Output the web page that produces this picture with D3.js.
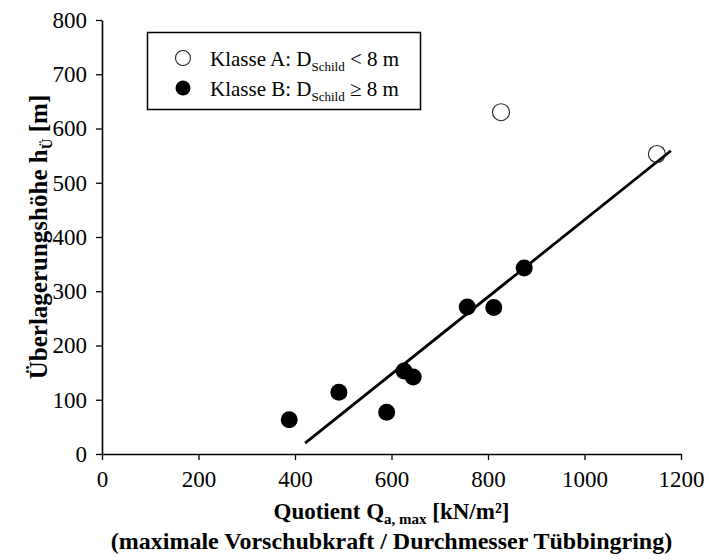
<!DOCTYPE html>
<html>
<head>
<meta charset="utf-8">
<script src="https://cdn.jsdelivr.net/npm/d3@7"></script>
<style>
  body { margin: 0; background: #fff; }
  text { font-family: "Liberation Serif", "Times New Roman", serif; fill: #000; }
</style>
</head>
<body>
<svg id="chart"></svg>
<script>
// Klasse A: D_Schild < 8 m (open circles)
var classA_x = [827, 1150];
var classA_y = [630, 553];
// Klasse B: D_Schild >= 8 m (filled circles)
var classB_x = [388, 491, 590, 626, 645, 757, 812, 875];
var classB_y = [63, 114, 77, 153, 142, 271, 270, 343];
// trend line end points
var trend_x = [421, 1179];
var trend_y = [20, 559];

var xTicks = [0, 200, 400, 600, 800, 1000, 1200];
var yTicks = [0, 100, 200, 300, 400, 500, 600, 700, 800];

var cfg = {
  width : 709,
  height : 560,
  left : 102,
  right : 28,
  top : 20,
  bottom : 106,
  radius : 8.5
};

var svg = d3.select("#chart")
  .attr("width", cfg.width)
  .attr("height", cfg.height);

var x = d3.scaleLinear().domain([0, 1200]).range([cfg.left, cfg.width - cfg.right]);
var y = d3.scaleLinear().domain([0, 800]).range([cfg.height - cfg.bottom, cfg.top]);

//axes
var xAxis = svg.append("g")
  .attr("transform", "translate(0," + y(0) + ")")
  .call(d3.axisBottom(x).tickValues(xTicks).tickSize(6).tickSizeOuter(0).tickFormat(d3.format("d")));
var yAxis = svg.append("g")
  .attr("transform", "translate(" + x(0) + ",0)")
  .call(d3.axisLeft(y).tickValues(yTicks).tickSize(6).tickSizeOuter(0).tickFormat(d3.format("d")));

[xAxis, yAxis].forEach(function(a){
  a.select(".domain").attr("stroke", "#000").attr("stroke-width", 1.6);
  a.selectAll(".tick line").attr("stroke", "#000").attr("stroke-width", 1.3);
  a.selectAll(".tick text")
    .attr("fill", "#000")
    .style("font-family", "'Liberation Serif', 'Times New Roman', serif")
    .style("font-size", "23px");
});
xAxis.selectAll(".tick text").attr("y", 17);
yAxis.selectAll(".tick text").attr("x", -15);

//trend line
svg.append("line")
  .attr("x1", x(trend_x[0])).attr("y1", y(trend_y[0]))
  .attr("x2", x(trend_x[1])).attr("y2", y(trend_y[1]))
  .attr("stroke", "#000")
  .attr("stroke-width", 2.8);

//points
svg.selectAll("circle.b")
  .data(classB_x)
  .enter()
  .append("circle")
  .attr("class", "b")
  .attr("cx", function(d){ return x(d); })
  .attr("cy", function(d, i){ return y(classB_y[i]); })
  .attr("r", cfg.radius)
  .attr("fill", "#000");

svg.selectAll("circle.a")
  .data(classA_x)
  .enter()
  .append("circle")
  .attr("class", "a")
  .attr("cx", function(d){ return x(d); })
  .attr("cy", function(d, i){ return y(classA_y[i]); })
  .attr("r", cfg.radius)
  .attr("fill", "none")
  .attr("stroke", "#222")
  .attr("stroke-width", 1.1);

//legend
var legend = svg.append("g");
legend.append("rect")
  .attr("x", 147.5).attr("y", 32.5)
  .attr("width", 273).attr("height", 77)
  .attr("fill", "#fff")
  .attr("stroke", "#000")
  .attr("stroke-width", 1.5);

var legendItems = [
  {filled : false, main : "Klasse A: D", sub : "Schild", rest : " < 8 m"},
  {filled : true, main : "Klasse B: D", sub : "Schild", rest : " \u2265 8 m"}
];
legendItems.forEach(function(item, i){
  var cy = 58 + i * 30;
  legend.append("circle")
    .attr("cx", 183).attr("cy", cy).attr("r", 7.5)
    .attr("fill", item.filled ? "#000" : "#fff")
    .attr("stroke", item.filled ? "none" : "#222")
    .attr("stroke-width", 1.1);
  var t = legend.append("text")
    .attr("x", 210).attr("y", cy + 8)
    .style("font-size", "21px");
  t.append("tspan").text(item.main);
  t.append("tspan").text(item.sub).attr("dy", 5).style("font-size", "13px");
  t.append("tspan").text(item.rest).attr("dy", -5);
});

//axis titles
var xt = svg.append("text")
  .attr("x", (x(0) + x(1200)) / 2)
  .attr("y", 519)
  .attr("text-anchor", "middle")
  .style("font-size", "23px")
  .style("font-weight", "bold");
xt.append("tspan").text("Quotient Q");
xt.append("tspan").text("a, max").attr("dy", 5).style("font-size", "15px");
xt.append("tspan").text(" [kN/m\u00b2]").attr("dy", -5);

svg.append("text")
  .attr("x", (x(0) + x(1200)) / 2)
  .attr("y", 549)
  .attr("text-anchor", "middle")
  .style("font-size", "24px")
  .style("font-weight", "bold")
  .text("(maximale Vorschubkraft / Durchmesser T\u00fcbbingring)");

var yt = svg.append("text")
  .attr("transform", "translate(47," + ((y(0) + y(800)) / 2) + ") rotate(-90)")
  .attr("text-anchor", "middle")
  .style("font-size", "25px")
  .style("font-weight", "bold");
yt.append("tspan").text("\u00dcberlagerungsh\u00f6he h");
yt.append("tspan").text("\u00dc").attr("dy", 5).style("font-size", "15px");
yt.append("tspan").text(" [m]").attr("dy", -5);
</script>
</body>
</html>
